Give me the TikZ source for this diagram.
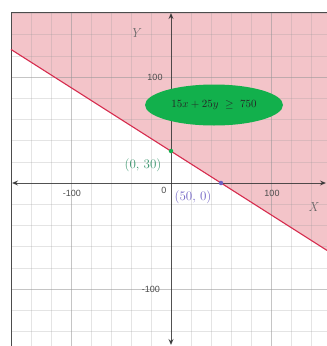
\documentclass[tikz,border=0pt]{standalone}
\usepackage{fontspec}
\newfontfamily\ticksf{Liberation Sans}
\usetikzlibrary{shapes.geometric,arrows.meta}
\definecolor{pinkfill}{RGB}{243,196,201}
\definecolor{lred}{RGB}{214,44,78}
\definecolor{egreen}{RGB}{18,176,76}
\definecolor{pgreen}{RGB}{58,150,110}
\definecolor{ppurple}{RGB}{110,96,196}
\definecolor{gridc}{RGB}{150,150,150}
\tikzset{
  minorgrid/.style={draw=gridc, draw opacity=0.25, line width=0.6pt},
  majorgrid/.style={draw=gridc, draw opacity=0.55, line width=0.7pt},
  axisline/.style={draw=black!80, line width=1pt, opacity=0.85},
  tick/.style={font=\ticksf\fontsize{9}{9}\selectfont, text=black!70, inner sep=1pt},
  axlab/.style={font=\itshape\fontsize{13}{13}\selectfont, text=black!60, inner sep=0pt},
  ptlab/.style={font=\fontsize{13}{13}\selectfont, inner sep=0pt},
  dot/.style={circle, inner sep=0pt, minimum size=4.5pt},
}
\begin{document}
\begin{tikzpicture}[x=1pt,y=-1pt]
\useasboundingbox (0,0) rectangle (327,346);
\fill[white] (0,0) rectangle (327,346);
% shaded half-plane
\fill[pinkfill] (11,49.44) -- (327,250.4) -- (327,12) -- (11,12) -- cycle;
% grid
\foreach \i in {31,51,91,111,131,151,191,211,231,251,291,311}
  \draw[minorgrid] (\i,12) -- (\i,346);
\foreach \i in {71,271}
  \draw[majorgrid] (\i,12) -- (\i,346);
\foreach \k in {1,2,3,4,6,7,8}
  \draw[minorgrid] (11,183-21.2*\k) -- (327,183-21.2*\k);
\foreach \k in {1,2,3,4,6,7}
  \draw[minorgrid] (11,183+21.2*\k) -- (327,183+21.2*\k);
\draw[majorgrid] (11,77) -- (327,77);
\draw[majorgrid] (11,289) -- (327,289);
% frame
\draw[black!70, line width=0.8pt] (11,346) -- (11,12) -- (327,12);
% boundary line
\coordinate (la) at (11,49.44);
\coordinate (lb) at (327,250.4);
\draw[lred, line width=1.1pt] (la) -- (lb);
% axes
\coordinate (xl) at (12,183);
\coordinate (xr) at (326,183);
\coordinate (yt) at (171,13);
\coordinate (yb) at (171,345);
\draw[axisline, {Stealth[length=6pt,width=5pt]}-{Stealth[length=6pt,width=5pt]}] (xl) -- (xr);
\draw[axisline, {Stealth[length=6pt,width=5pt]}-{Stealth[length=6pt,width=5pt]}] (yt) -- (yb);
% tick labels
\node[tick] (tm100x) at (72,193) {-100};
\node[tick] (tp100x) at (272,193) {100};
\node[tick] (t0) at (164,190) {0};
\node[tick] (tp100y) at (155,77) {100};
\node[tick] (tm100y) at (151,289) {-100};
% axis labels
\node[axlab] (ylab) at (135,33) {Y};
\node[axlab] (xlab) at (313,207) {X};
% ellipse
\node[ellipse, fill=egreen, minimum width=138pt, minimum height=41pt, inner sep=0pt,
      font=\fontsize{10.5}{10.5}\selectfont, text=black!85] (ineq) at (214,105) {$15x + 25y\ \geq\ 750$};
% points
\node[dot, fill=egreen] (p1) at (171,151) {};
\node[dot, fill=ppurple] (p2) at (221,183) {};
\node[ptlab, text=pgreen] (p1lab) at (143,165) {(0, 30)};
\node[ptlab, text=ppurple] (p2lab) at (193,197) {(50, 0)};
\end{tikzpicture}
\end{document}
